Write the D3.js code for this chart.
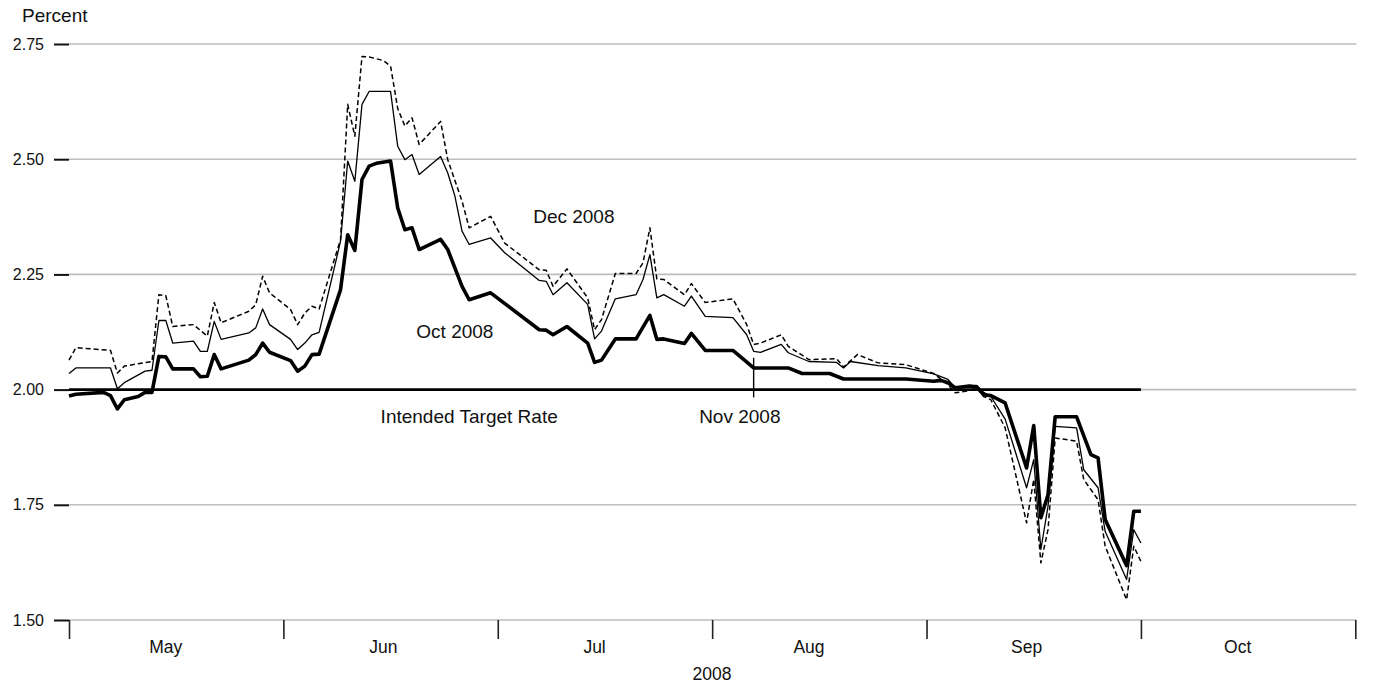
<!DOCTYPE html>
<html>
<head>
<meta charset="utf-8">
<script src="https://cdn.jsdelivr.net/npm/d3@7"></script>
<style>
  html, body { margin: 0; padding: 0; background: #fff; }
  svg { display: block; font-family: "Liberation Sans", Arial, Helvetica, sans-serif; }
</style>
</head>
<body>
<svg id="chart" width="1375" height="687"></svg>
<script>
// ---------- data ----------
const monthStarts = ["2008-05-01","2008-06-01","2008-07-01","2008-08-01","2008-09-01","2008-10-01","2008-11-01"];
const monthLabels = ["May","Jun","Jul","Aug","Sep","Oct"];
const monthLabelDates = ["2008-05-15","2008-06-15","2008-07-15","2008-08-15","2008-09-15","2008-10-15"];
const yearLabel = "2008";
const yTicks = [1.50, 1.75, 2.00, 2.25, 2.50, 2.75];
const yLabel = "Percent";

const targetRate = 2.00;
const targetDates = ["2008-05-01", "2008-10-01"];

// Oct 2008 contract (thick)
const octContract = [
  ["2008-05-01",1.986],["2008-05-02",1.990],["2008-05-06",1.994],["2008-05-07",1.987],["2008-05-08",1.958],
  ["2008-05-09",1.978],["2008-05-11",1.985],["2008-05-12",1.994],["2008-05-13",1.994],["2008-05-14",2.072],
  ["2008-05-15",2.071],["2008-05-16",2.045],["2008-05-19",2.045],["2008-05-20",2.028],["2008-05-21",2.029],
  ["2008-05-22",2.076],["2008-05-23",2.045],["2008-05-27",2.064],["2008-05-28",2.076],["2008-05-29",2.101],
  ["2008-05-30",2.081],
  ["2008-06-02",2.063],["2008-06-03",2.040],["2008-06-04",2.051],["2008-06-05",2.076],["2008-06-06",2.077],
  ["2008-06-09",2.217],["2008-06-10",2.336],["2008-06-11",2.302],["2008-06-12",2.456],["2008-06-13",2.485],
  ["2008-06-14",2.491],["2008-06-16",2.496],["2008-06-17",2.394],["2008-06-18",2.347],["2008-06-19",2.351],
  ["2008-06-20",2.304],["2008-06-23",2.326],["2008-06-24",2.304],["2008-06-26",2.224],["2008-06-27",2.195],
  ["2008-06-30",2.210],
  ["2008-07-07",2.130],["2008-07-08",2.129],["2008-07-09",2.119],["2008-07-11",2.137],["2008-07-14",2.101],
  ["2008-07-15",2.059],["2008-07-16",2.064],["2008-07-18",2.110],["2008-07-21",2.110],["2008-07-23",2.161],
  ["2008-07-24",2.109],["2008-07-25",2.110],["2008-07-28",2.100],["2008-07-29",2.122],["2008-07-31",2.085],
  ["2008-08-04",2.085],["2008-08-07",2.047],["2008-08-12",2.047],["2008-08-14",2.035],["2008-08-18",2.035],
  ["2008-08-20",2.023],["2008-08-29",2.023],
  ["2008-09-02",2.018],["2008-09-03",2.020],["2008-09-04",2.015],["2008-09-05",2.004],["2008-09-07",2.008],
  ["2008-09-08",2.006],["2008-09-09",1.989],["2008-09-10",1.987],["2008-09-12",1.971],["2008-09-15",1.830],
  ["2008-09-16",1.922],["2008-09-17",1.722],["2008-09-18",1.772],["2008-09-19",1.941],["2008-09-22",1.941],
  ["2008-09-24",1.859],["2008-09-25",1.852],["2008-09-26",1.718],["2008-09-29",1.618],["2008-09-30",1.736],
  ["2008-10-01",1.736]
];

// Nov 2008 contract (thin)
const novContract = [
  ["2008-05-01",2.035],["2008-05-02",2.047],["2008-05-07",2.047],["2008-05-08",2.002],["2008-05-09",2.015],
  ["2008-05-12",2.040],["2008-05-13",2.042],["2008-05-14",2.150],["2008-05-15",2.150],["2008-05-16",2.101],
  ["2008-05-19",2.105],["2008-05-20",2.083],["2008-05-21",2.083],["2008-05-22",2.148],["2008-05-23",2.109],
  ["2008-05-27",2.123],["2008-05-28",2.134],["2008-05-29",2.175],["2008-05-30",2.141],
  ["2008-06-02",2.109],["2008-06-03",2.087],["2008-06-04",2.101],["2008-06-05",2.119],["2008-06-06",2.124],
  ["2008-06-09",2.322],["2008-06-10",2.496],["2008-06-11",2.452],["2008-06-12",2.619],["2008-06-13",2.647],
  ["2008-06-16",2.647],["2008-06-17",2.528],["2008-06-18",2.499],["2008-06-19",2.510],["2008-06-20",2.467],
  ["2008-06-23",2.506],["2008-06-24",2.470],["2008-06-25",2.420],["2008-06-26",2.344],["2008-06-27",2.315],
  ["2008-06-30",2.329],
  ["2008-07-02",2.297],["2008-07-07",2.237],["2008-07-08",2.235],["2008-07-09",2.206],["2008-07-11",2.232],
  ["2008-07-14",2.185],["2008-07-15",2.110],["2008-07-16",2.127],["2008-07-18",2.197],["2008-07-21",2.206],
  ["2008-07-22",2.239],["2008-07-23",2.293],["2008-07-24",2.199],["2008-07-25",2.206],["2008-07-28",2.181],
  ["2008-07-29",2.203],["2008-07-31",2.159],
  ["2008-08-04",2.156],["2008-08-06",2.119],["2008-08-07",2.083],["2008-08-08",2.081],["2008-08-11",2.098],
  ["2008-08-12",2.080],["2008-08-15",2.061],["2008-08-19",2.059],["2008-08-20",2.047],["2008-08-21",2.061],
  ["2008-08-25",2.052],["2008-08-29",2.047],
  ["2008-09-02",2.034],["2008-09-04",2.022],["2008-09-05",2.004],["2008-09-08",2.009],["2008-09-09",1.994],
  ["2008-09-10",1.985],["2008-09-12",1.936],["2008-09-15",1.787],["2008-09-16",1.848],["2008-09-17",1.653],
  ["2008-09-18",1.747],["2008-09-19",1.920],["2008-09-22",1.917],["2008-09-23",1.826],["2008-09-25",1.787],
  ["2008-09-26",1.692],["2008-09-29",1.588],["2008-09-30",1.696],["2008-10-01",1.667]
];

// Dec 2008 contract (dashed)
const decContract = [
  ["2008-05-01",2.064],["2008-05-02",2.091],["2008-05-07",2.085],["2008-05-08",2.036],["2008-05-09",2.051],
  ["2008-05-13",2.061],["2008-05-14",2.206],["2008-05-15",2.204],["2008-05-16",2.137],["2008-05-19",2.141],
  ["2008-05-21",2.116],["2008-05-22",2.189],["2008-05-23",2.145],["2008-05-27",2.170],["2008-05-28",2.184],
  ["2008-05-29",2.246],["2008-05-30",2.210],
  ["2008-06-02",2.174],["2008-06-03",2.141],["2008-06-04",2.166],["2008-06-05",2.181],["2008-06-06",2.175],
  ["2008-06-09",2.326],["2008-06-10",2.619],["2008-06-11",2.550],["2008-06-12",2.723],["2008-06-13",2.722],
  ["2008-06-15",2.714],["2008-06-16",2.702],["2008-06-17",2.610],["2008-06-18",2.572],["2008-06-19",2.590],
  ["2008-06-20",2.532],["2008-06-23",2.582],["2008-06-24",2.499],["2008-06-26",2.409],["2008-06-27",2.351],
  ["2008-06-30",2.376],
  ["2008-07-02",2.318],["2008-07-07",2.260],["2008-07-08",2.259],["2008-07-09",2.224],["2008-07-11",2.262],
  ["2008-07-14",2.199],["2008-07-15",2.130],["2008-07-16",2.152],["2008-07-18",2.252],["2008-07-21",2.252],
  ["2008-07-22",2.275],["2008-07-23",2.351],["2008-07-24",2.240],["2008-07-25",2.239],["2008-07-28",2.206],
  ["2008-07-29",2.230],["2008-07-31",2.189],
  ["2008-08-04",2.197],["2008-08-06",2.141],["2008-08-07",2.098],["2008-08-08",2.101],["2008-08-11",2.119],
  ["2008-08-12",2.094],["2008-08-15",2.065],["2008-08-19",2.067],["2008-08-20",2.049],["2008-08-22",2.076],
  ["2008-08-25",2.058],["2008-08-29",2.054],
  ["2008-09-02",2.035],["2008-09-04",2.011],["2008-09-05",1.993],["2008-09-07",1.998],["2008-09-08",2.004],
  ["2008-09-09",1.985],["2008-09-10",1.978],["2008-09-12",1.917],["2008-09-15",1.711],["2008-09-16",1.805],
  ["2008-09-17",1.624],["2008-09-18",1.696],["2008-09-19",1.895],["2008-09-22",1.888],["2008-09-23",1.805],
  ["2008-09-25",1.761],["2008-09-26",1.660],["2008-09-29",1.544],["2008-09-30",1.660],["2008-10-01",1.627]
];

const annotations = [
  { text: "Dec 2008", date: "2008-07-12", value: 2.362 },
  { text: "Oct 2008", date: "2008-06-25", value: 2.112 },
  { text: "Intended Target Rate", date: "2008-06-27", value: 1.927 },
  { text: "Nov 2008", date: "2008-08-05", value: 1.927 }
];
const novPointer = { date: "2008-08-07", from: 2.069, to: 1.983 };

// ---------- drawing ----------
const parse = d3.timeParse("%Y-%m-%d");
const W = 1375, H = 687;
const plotLeft = 69, plotRight = 1355.3, plotTop = 44, plotBottom = 620;

const svg = d3.select("#chart");
svg.append("rect").attr("width", W).attr("height", H).attr("fill", "#fff");

const monthDates = monthStarts.map(parse);
const x = d3.scaleTime()
  .domain(monthDates)
  .range(monthDates.map((d, i) => plotLeft + i * (plotRight - plotLeft) / (monthDates.length - 1)));
const y = d3.scaleLinear().domain([1.5, 2.75]).range([plotBottom, plotTop]);

// gridlines
svg.append("g").selectAll("line").data(yTicks).join("line")
  .attr("x1", plotLeft).attr("x2", plotRight + 1)
  .attr("y1", d => y(d)).attr("y2", d => y(d))
  .attr("stroke", "#bdbdbd").attr("stroke-width", 1.6);

// y axis
const yAxis = svg.append("g").attr("transform", `translate(${plotLeft},0)`)
  .call(d3.axisLeft(y).tickValues(yTicks).tickSize(15).tickPadding(10).tickFormat(d3.format(".2f")));
yAxis.select(".domain").remove();
yAxis.selectAll(".tick line").attr("stroke", "#111").attr("stroke-width", 2);
yAxis.selectAll(".tick text").attr("font-size", 16).attr("fill", "#111")
  .attr("font-family", "Liberation Sans, Arial, sans-serif");

// x axis
const xAxis = svg.append("g").attr("transform", `translate(0,${plotBottom})`)
  .call(d3.axisBottom(x).tickValues(monthDates).tickSize(19).tickFormat(""));
xAxis.select(".domain").remove();
xAxis.selectAll(".tick line").attr("stroke", "#222").attr("stroke-width", 1.6);

svg.append("g").selectAll("text").data(monthLabels).join("text")
  .attr("x", (d, i) => x(parse(monthLabelDates[i])))
  .attr("y", 653)
  .attr("text-anchor", "middle").attr("font-size", 17.5).attr("fill", "#111")
  .text(d => d);

svg.append("text").attr("x", 712).attr("y", 680).attr("text-anchor", "middle")
  .attr("font-size", 17.5).attr("fill", "#111").text(yearLabel);

svg.append("text").attr("x", 22).attr("y", 22).attr("font-size", 19).attr("fill", "#111").text(yLabel);

// target rate line
svg.append("line")
  .attr("x1", x(parse(targetDates[0]))).attr("x2", x(parse(targetDates[1])))
  .attr("y1", y(targetRate)).attr("y2", y(targetRate))
  .attr("stroke", "#000").attr("stroke-width", 2.6);

const line = d3.line().x(d => x(parse(d[0]))).y(d => y(d[1]));

svg.append("path").datum(decContract).attr("d", line)
  .attr("fill", "none").attr("stroke", "#000").attr("stroke-width", 1.5)
  .attr("stroke-dasharray", "5,3").attr("stroke-linejoin", "round");
svg.append("path").datum(novContract).attr("d", line)
  .attr("fill", "none").attr("stroke", "#000").attr("stroke-width", 1.3)
  .attr("stroke-linejoin", "round");
svg.append("path").datum(octContract).attr("d", line)
  .attr("fill", "none").attr("stroke", "#000").attr("stroke-width", 3.6)
  .attr("stroke-linejoin", "round");

// Nov pointer
svg.append("line")
  .attr("x1", x(parse(novPointer.date))).attr("x2", x(parse(novPointer.date)))
  .attr("y1", y(novPointer.from)).attr("y2", y(novPointer.to))
  .attr("stroke", "#000").attr("stroke-width", 1.4);

// annotations
svg.append("g").selectAll("text").data(annotations).join("text")
  .attr("x", d => x(parse(d.date)))
  .attr("y", d => y(d.value))
  .attr("text-anchor", "middle").attr("font-size", 19).attr("fill", "#111")
  .text(d => d.text);
</script>
</body>
</html>
